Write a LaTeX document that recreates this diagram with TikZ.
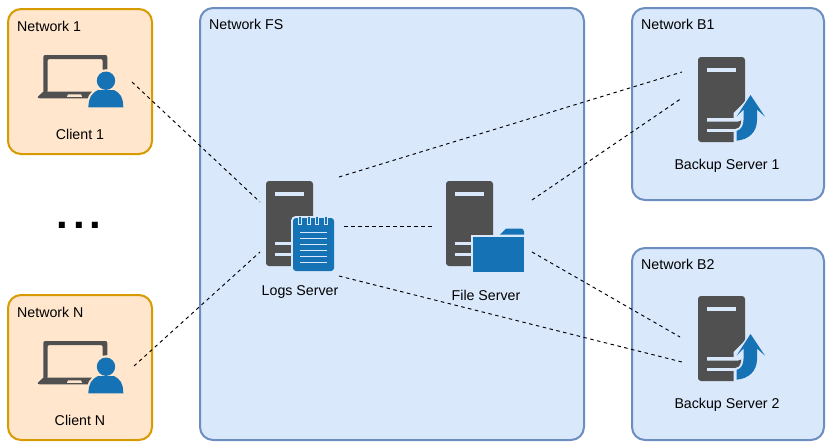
\documentclass[tikz,border=0pt]{standalone}
\usepackage{fontspec}
\setmainfont{Liberation Sans}
\definecolor{orfill}{HTML}{FFE6CC}
\definecolor{orline}{HTML}{D79B00}
\definecolor{blfill}{HTML}{DAE8FC}
\definecolor{blline}{HTML}{6C8EBF}
\definecolor{icdark}{HTML}{505050}
\definecolor{icblue}{HTML}{1572B4}
\tikzset{
  x=1pt,y=-1pt,
  net/.style={rounded corners=13pt,line width=2pt},
  orangenet/.style={net,draw=orline,fill=orfill},
  bluenet/.style={net,draw=blline,fill=blfill},
  lbl/.style={font=\fontsize{14.2}{16}\selectfont,inner sep=0pt,text=black},
  link/.style={dash pattern=on 3.5pt off 3.5pt,line width=0.95pt,black},
  server/.pic={
    \fill[icdark,rounded corners=3pt] (0,0) rectangle (47,85);
    \fill[blfill] (9,11) rectangle (38,14.5);
    \fill[blfill] (9,60.5) rectangle (38,64);
    \fill[blfill] (9,72) rectangle (38,75);
  },
  client/.pic={
    \fill[icdark,rounded corners=2pt] (43.3,70) -- (43.3,55) -- (107.3,55) -- (107.3,71) -- (102.7,71) -- (102.7,59) -- (47.5,59) -- (47.5,93) -- (43.3,93) -- cycle;
    \fill[icdark] (43.3,91.7) -- (92,91.7) -- (92,98.3) -- (39.5,98.3) .. controls (37.5,98.3) and (37,97) .. (38.5,96) -- cycle;
    \fill[orfill] (68,94.3) -- (81,94.3) -- (82,96.8) -- (67,96.8) -- cycle;
    \fill[orfill] (106,80.7) circle[radius=11.5pt];
    \path[fill=orfill,draw=orfill,line width=4pt,line join=round] (88.3,107.3) .. controls (89,97) and (91,94) .. (98,90) -- (114,90) .. controls (121,94) and (123,97) .. (123.3,107.3) -- cycle;
    \fill[icblue] (106,80.7) circle[radius=9.2pt];
    \fill[icblue] (88.3,107.3) .. controls (89,97) and (91,94) .. (98,90) -- (114,90) .. controls (121,94) and (123,97) .. (123.3,107.3) -- cycle;
  },
  uparrow/.pic={
    \fill[blfill] (745,101.5) -- (733.5,113) -- (733.5,143) -- (746,143) -- cycle;
    \fill[icdark] (728,118) -- (741,118) -- (741,123) .. controls (740,127) and (738,129) .. (735,129) -- (728,129) -- cycle;
    \fill[blfill] (707,118) -- (738,118) .. controls (740,118) and (741,117) .. (741.5,115) -- (742.5,115) -- (742.5,118) .. controls (742,120) and (740,121.5) .. (738,121.5) -- (707,121.5) -- cycle;
    \fill[blfill] (707,129) rectangle (737,132);
    \path[fill=blfill,draw=blfill,line width=3pt,line join=miter] (750.5,95) -- (765,116.7) -- (757,109.5) -- (757,120) .. controls (757,132) and (749,139.5) .. (736.7,140.7) -- (736.7,131) .. controls (741,129.5) and (743.5,126) .. (743.5,120) -- (743.5,109.5) -- (736.5,116.7) -- cycle;
    \fill[icblue] (750.5,95) -- (765,116.7) -- (757,109.5) -- (757,120) .. controls (757,132) and (749,139.5) .. (736.7,140.7) -- (736.7,131) .. controls (741,129.5) and (743.5,126) .. (743.5,120) -- (743.5,109.5) -- (736.5,116.7) -- cycle;
  }
}
\begin{document}
\begin{tikzpicture}
\useasboundingbox (0,0) rectangle (831,447);
\fill[white] (0,0) rectangle (831,447);
% groups
\draw[orangenet] (8,9) rectangle (152,154);
\draw[orangenet] (8,295) rectangle (152,440);
\draw[bluenet] (200,8) rectangle (584,440);
\draw[bluenet] (632,8) rectangle (824,200);
\draw[bluenet] (632,248) rectangle (824,440);
\node[lbl,anchor=base west] (n1) at (17,31) {Network 1};
\node[lbl,anchor=base west] (nn) at (17,317) {Network N};
\node[lbl,anchor=base west] (nfs) at (209,29) {Network FS};
\node[lbl,anchor=base west] (nb1) at (641,29) {Network B1};
\node[lbl,anchor=base west] (nb2) at (641,269) {Network B2};
% icons
\pic at (0,0) {client};
\pic at (0,286) {client};
\pic at (266,181) {server};
\pic at (446,181) {server};
\pic at (698,57) {server};
\pic at (698,296) {server};
% notebook
\filldraw[blfill,line width=4pt,rounded corners=3pt] (293,218) rectangle (334,271);
\fill[icblue,rounded corners=3pt] (293,218) rectangle (334,271);
\foreach \xx in {300,309,317,326}{\draw[blfill,line width=3.2pt] (\xx,215.5) -- (\xx,224.5);\draw[icblue,line width=1.6pt] (\xx,216.5) -- (\xx,224);}
\foreach \yy in {231.5,237.5,243.5,249.5,255.5,261.5}{\fill[blfill] (300,\yy) rectangle (327,\yy+1.5);}
% folder
\filldraw[blfill,line width=4pt] (473,237) rectangle (524,272);
\fill[icblue] (473,237) rectangle (524,272);
\fill[icblue] (500,234.5) -- (506,228.5) -- (521,228.5) arc[start angle=90,end angle=0,radius=3pt] -- (524,234.5) -- cycle;
% arrows
\pic at (0,0) {uparrow};
\pic at (0,239) {uparrow};
% labels
\node[lbl] (c1) at (80,134) {Client 1};
\node[lbl] (cn) at (80,420) {Client N};
\node[lbl] (ls) at (300,292) {Logs Server};
\node[lbl] (fs) at (486,295) {File Server};
\node[lbl] (b1) at (727,166) {Backup Server 1};
\node[lbl] (b2) at (727,405) {Backup Server 2};
\node[font=\bfseries\fontsize{42}{42}\selectfont,inner sep=0pt,anchor=base] (dots) at (79.2,228) {.\kern4.9pt.\kern4.9pt.};
% connectors
\coordinate (c1o) at (132,82);
\coordinate (cno) at (134,366);
\coordinate (la) at (260,202);
\coordinate (lb) at (260,252);
\coordinate (lc) at (339,177);
\coordinate (ld) at (344,226);
\coordinate (le) at (339,276);
\coordinate (fa) at (432,226);
\coordinate (fb) at (532,200);
\coordinate (fc) at (532,252);
\coordinate (ba) at (682,72);
\coordinate (bb) at (682,98);
\coordinate (bc) at (680,337);
\coordinate (bd) at (682,362);
\draw[link] (c1o) -- (la);
\draw[link] (cno) -- (lb);
\draw[link] (lc) -- (ba);
\draw[link] (ld) -- (fa);
\draw[link] (le) -- (bd);
\draw[link] (fb) -- (bb);
\draw[link] (fc) -- (bc);
\end{tikzpicture}
\end{document}
